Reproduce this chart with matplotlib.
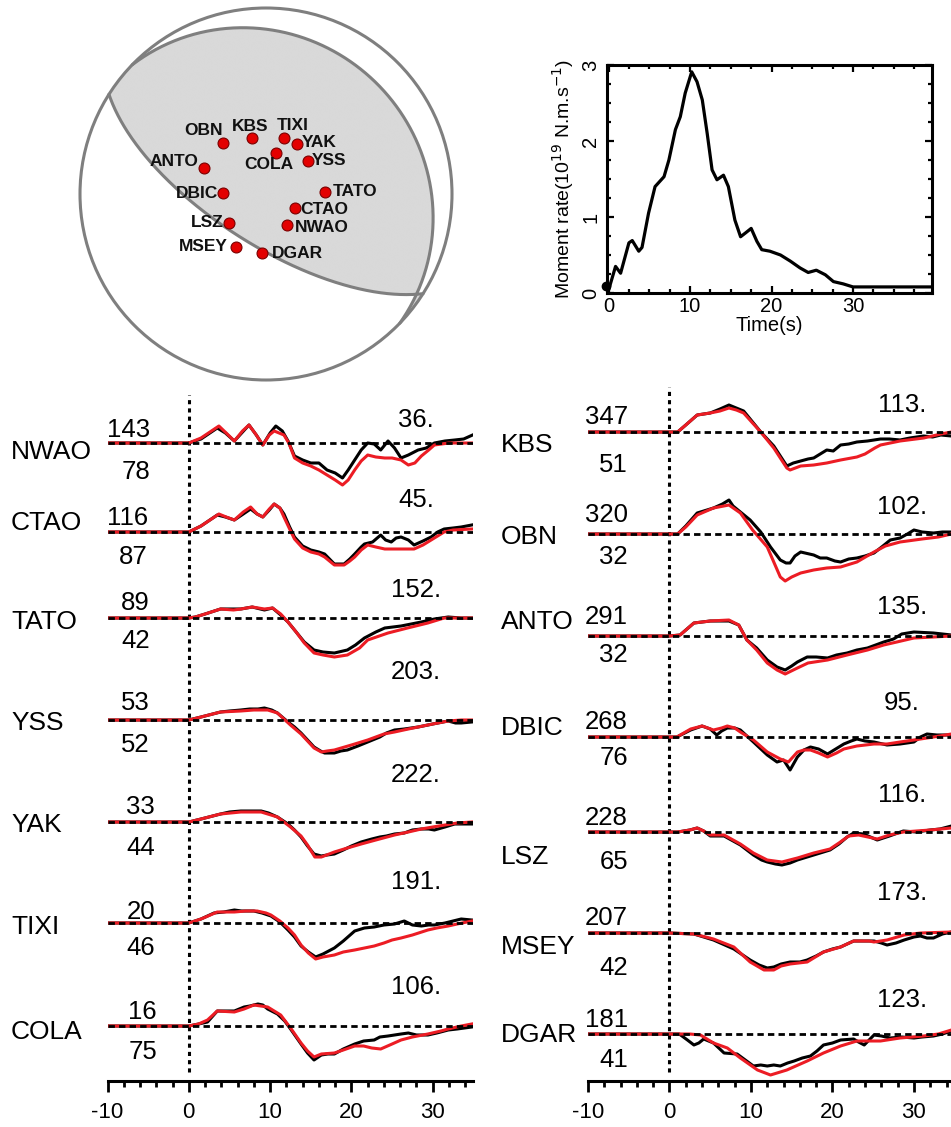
import numpy as np
import matplotlib
matplotlib.use('Agg')
import matplotlib.pyplot as plt
from matplotlib.patches import Circle
from matplotlib.ticker import MultipleLocator

plt.rcParams['font.family'] = ['Liberation Sans', 'DejaVu Sans']
plt.rcParams['axes.unicode_minus'] = False

# ---------------- DATA ----------------
# moment-rate function
MR_T = [-0.3, 0, 0.85, 1.47, 2.49, 2.9, 3.7, 4.1, 4.9, 5.7, 6.8, 7.4, 8.2, 8.8, 9.4, 10.2,
        10.85, 11.5, 12.1, 12.7, 13.3, 14.1, 14.7, 15.5, 16.2, 16.8, 17.5, 18.2, 18.8, 19.8,
        21.1, 22.3, 23.5, 24.5, 25.5, 26.6, 27.6, 28.8, 30, 39.7]
MR_V = [0.09, 0.04, 0.35, 0.26, 0.66, 0.69, 0.55, 0.6, 1.05, 1.4, 1.53, 1.75, 2.15, 2.32, 2.63, 2.91,
        2.78, 2.54, 2.1, 1.62, 1.49, 1.55, 1.4, 0.96, 0.74, 0.79, 0.85, 0.68, 0.57, 0.55,
        0.5, 0.42, 0.33, 0.27, 0.3, 0.24, 0.15, 0.12, 0.08, 0.08]

# stations on the focal sphere (projected E, N in units of sphere radius)
BALL_STA = ['OBN', 'KBS', 'TIXI', 'YAK', 'COLA', 'YSS', 'ANTO', 'DBIC', 'TATO', 'CTAO',
            'LSZ', 'NWAO', 'MSEY', 'DGAR']
BALL_E = [-0.230, -0.077, 0.098, 0.165, 0.054, 0.224, -0.333, -0.233, 0.317, 0.156,
          -0.199, 0.115, -0.161, -0.023]
BALL_N = [0.276, 0.299, 0.303, 0.269, 0.222, 0.179, 0.138, 0.004, 0.012, -0.074,
          -0.154, -0.167, -0.283, -0.319]
# nodal planes (strike, dip)
PLANE_A = (122.4, 68.0)
PLANE_B = (314.0, 17.0)

# waveform panels
LEFT_STA = ['NWAO', 'CTAO', 'TATO', 'YSS', 'YAK', 'TIXI', 'COLA']
LEFT_AZ = ['143', '116', '89', '53', '33', '20', '16']
LEFT_DIST = ['78', '87', '42', '52', '44', '46', '75']
LEFT_AMP = ['36.', '45.', '152.', '203.', '222.', '191.', '106.']
RIGHT_STA = ['KBS', 'OBN', 'ANTO', 'DBIC', 'LSZ', 'MSEY', 'DGAR']
RIGHT_AZ = ['347', '320', '291', '268', '228', '207', '181']
RIGHT_DIST = ['51', '32', '32', '76', '65', '42', '41']
RIGHT_AMP = ['113.', '102.', '135.', '95.', '116.', '173.', '123.']

# traces: (time s, amplitude) observed (black) and synthetic (red)
NWAO_OBS = [(-10,0),(0,0),(1.5,4),(3.5,15),(4.5,10),(5.6,2),(6.5,10),(7.4,18),(8.3,8),(9.1,-2),(10,10),
            (10.7,17),(11.5,12),(12.2,2),(13,-13),(14,-17),(15,-20),(16,-20),(17,-27),(18,-30),(18.9,-35),
            (19.6,-27),(20.4,-17),(21.2,-7),(22,0),(22.8,-1),(23.6,-7),(24.5,2),(25.3,-5),(26.1,-15),
            (27,-12),(28.2,-7),(29.2,-5),(30.2,0),(31.5,2),(32.7,3),(33.8,4),(34.9,8)]
NWAO_SYN = [(-10,0),(0,0),(1.5,5),(3.7,17),(4.6,10),(5.6,2),(6.6,12),(7.4,18),(8.3,8),(9.1,-2),(9.9,8),
            (10.5,12),(11.7,8),(12.3,0),(13,-15),(14,-20),(15,-23),(16,-27),(17,-32),(18,-37),(18.9,-42),
            (19.6,-37),(20.4,-27),(21.2,-18),(22,-12),(23,-14),(24.1,-15),(25,-15),(26.1,-17),(27,-22),
            (27.8,-20),(28.6,-13),(29.5,-7),(30.2,-2),(32,0),(35,0)]
CTAO_OBS = [(-10,0),(0,0),(1.5,6),(3.5,17),(4.5,15),(5.6,12),(6.7,18),(7.6,23),(8.4,18),(9.1,15),(9.9,22),
            (10.5,28),(11.2,24),(11.7,18),(12.4,5),(13,-5),(14,-14),(15,-18),(16,-20),(16.7,-22),(17.3,-27),
            (17.9,-32),(19.1,-32),(19.8,-27),(20.4,-22),(21.2,-15),(21.6,-12),(22.6,-10),(23.6,-3),(24.2,-8),
            (24.9,-10),(25.5,-6),(26.1,-5),(27,-8),(27.7,-13),(28.8,-9),(29.8,-5),(30.6,0),(31.4,3),(32.5,4),
            (33.5,5),(34.8,7)]
CTAO_SYN = [(-10,0),(0,0),(1.5,6),(3.7,18),(4.6,15),(5.6,12),(6.7,20),(7.6,25),(8.4,18),(9.1,15),(9.9,23),
            (10.5,28),(11.2,24),(11.7,15),(12.4,3),(13,-7),(14,-16),(15,-20),(16,-22),(16.7,-25),(17.3,-29),
            (17.9,-33),(19.1,-33),(19.8,-29),(20.4,-25),(21.2,-18),(22,-13),(23,-15),(24.1,-17),(25.1,-17),
            (26.1,-17),(27.7,-17),(28.8,-13),(29.8,-8),(30.6,-4),(31.4,0),(32.5,2),(34.8,3)]
TATO_OBS = [(-10,0),(0,0),(0.8,1),(2,4),(3.9,9),(5.5,9),(6.4,9),(7.8,11),(9.3,8),(10.3,10),(11.3,3),(12.2,-4),
            (13.2,-14),(14.2,-24),(15.4,-32),(16.5,-34),(17.9,-35),(19.5,-32),(20.5,-27),(21.6,-20),(23,-14),
            (24.1,-10),(26.1,-8),(28.6,-4),(30.2,-1),(31.9,1),(33.5,0),(34.8,0)]
TATO_SYN = [(-10,0),(0,0),(0.8,1),(2,4),(3.9,9),(5.5,8),(6.4,9),(7.8,11),(9.3,9),(10.3,10),(11.3,4),(12.2,-4),
            (13.2,-14),(14.2,-25),(15.4,-35),(16.5,-37),(17.9,-39),(19.5,-37),(21,-30),(22,-22),(24.5,-15),
            (26.9,-10),(29.4,-5),(31.4,0),(34.8,0)]
YSS_OBS = [(-10,0),(0,0),(1.5,3),(3.9,8),(5,9),(6.4,10),(7.5,11),(8.5,11),(9.3,12),(10.2,10),(10.9,7),(12.2,-2),
           (13,-7),(13.8,-13),(14.6,-20),(15.4,-27),(16.2,-31),(16.7,-33),(17.9,-33),(18.7,-31),(19.5,-30),
           (20.8,-26),(22,-22),(23.5,-17),(24.3,-13),(25.3,-10),(26.5,-9),(28.2,-7),(30,-4),(31.9,-1),
           (32.8,-3),(33.5,-3),(34.8,-2)]
YSS_SYN = [(-10,0),(0,0),(1.5,3),(3.9,8),(6.4,9),(8,10),(9.7,10),(10.9,7),(12.5,-5),(13.8,-14),(14.6,-21),
           (15.4,-28),(16.3,-32),(17,-31),(17.9,-30),(20,-25),(22,-20),(24,-14),(25.3,-12),(27,-9),(28.2,-7),
           (30,-4),(31.9,-1),(33.5,0),(34.8,0)]
YAK_OBS = [(-10,0),(0,0),(1.5,3),(3.9,8),(5,10),(6.4,11),(7.5,11),(8.9,11),(9.8,9),(10.9,5),(12.2,-2),(13,-8),
           (13.8,-15),(14.6,-24),(15.4,-32),(16.3,-34),(17,-33),(17.9,-32),(19,-28),(20,-24),(21.2,-20),
           (22.5,-17),(23.5,-15),(24.3,-14),(25.3,-12),(26.5,-11),(27.5,-8),(28.6,-7),(29.5,-7),(30.2,-8),
           (31.5,-5),(32.7,-2),(34.8,-2)]
YAK_SYN = [(-10,0),(0,0),(1.5,3),(3.9,8),(6.4,10),(8.9,10),(10.9,5),(12.5,-5),(13.8,-14),(14.6,-23),(15.5,-35),
           (16.3,-35),(17.9,-30),(19.5,-26),(21.2,-22),(23,-18),(25.3,-13),(27,-10),(28.6,-7),(30,-5),
           (31.5,-3),(33,-1),(34.8,0)]
TIXI_OBS = [(-10,0),(0,0),(1.5,4),(3.1,10),(4.3,11),(5.6,13),(6.5,12),(8,12),(9,10),(10.1,7),(11.2,1),(12.2,-7),
            (13,-14),(13.8,-23),(14.7,-29),(15.6,-34),(16.5,-31),(17.9,-25),(19,-18),(20.4,-8),(21.6,-5),
            (22.8,-4),(24,-2),(25.3,-1),(26.5,2),(27.5,-2),(28.6,-3),(29.5,-2),(30.2,-2),(31.5,0),(32.5,2),
            (33.5,4),(34.8,3)]
TIXI_SYN = [(-10,0),(0,0),(1.5,4),(3.5,11),(5.6,11),(7,12),(8.4,12),(9.5,10),(10.1,8),(11.2,2),(12.2,-5),
            (13,-12),(13.8,-22),(14.7,-30),(15.6,-36),(16.5,-34),(17.9,-32),(19,-29),(20.4,-27),(21.6,-25),
            (22.8,-23),(24,-20),(25,-17),(26.1,-15),(27.5,-12),(29.4,-7),(30.5,-5),(31.9,-3),(33,-1),(34.8,2)]
COLA_OBS = [(-10,0),(0,0),(1.2,2),(2.3,4),(3.5,15),(4.5,15),(5.6,15),(6.8,19),(7.5,20),(8.5,22),(9.1,21),
            (9.7,17),(10.9,12),(11.8,5),(12.6,-4),(13.8,-18),(14.6,-27),(15.4,-34),(16.3,-29),(17.1,-28),
            (17.9,-28),(19,-23),(20.4,-18),(21.5,-15),(22.8,-14),(23.5,-11),(24.5,-10),(26.1,-8),(27,-7),
            (28,-9),(29.4,-9),(30.5,-7),(31.9,-4),(33,-3),(34.8,-1)]
COLA_SYN = [(-10,0),(0,0),(1.2,2),(2.3,6),(3.5,15),(5.6,14),(6.8,17),(8,21),(9.7,19),(11.3,11),(12.6,-3),
            (13.8,-17),(14.6,-25),(15.4,-31),(16.3,-28),(17.9,-27),(19,-24),(20.4,-20),(21.5,-20),(22.5,-22),
            (23.6,-23),(25,-18),(26.1,-14),(27.5,-11),(29.4,-8),(31,-5),(31.9,-3),(33.5,0),(34.8,2)]

KBS_OBS = [(-10,0),(0,0),(1,0),(2,7),(3.4,17),(5,19),(6.2,23),(7.3,27),(8.2,24),(9.1,21),(10.2,10),(11.2,0),
           (12.8,-14),(14.4,-34),(15.2,-31),(16.1,-29),(17,-27),(17.7,-26),(18.5,-22),(19.3,-18),(20.1,-19),
           (21,-13),(22,-12),(23,-10),(24.3,-9),(25.9,-7),(27,-7),(28.3,-8),(29.5,-6),(31.2,-4),(32.3,-5),
           (33.3,-3),(34.6,-4)]
KBS_SYN = [(-10,0),(0,0),(1,0),(2,7),(3.4,17),(5,19),(6.2,21),(7.3,24),(8.2,22),(9.1,19),(10.2,9),(11.2,0),
           (12.8,-16),(14.4,-36),(14.8,-38),(16.1,-34),(17.7,-33),(19.3,-31),(21,-28),(23,-25),(24,-22),
           (25.2,-16),(25.9,-13),(28.3,-9),(31.2,-6),(33.3,-2),(34.6,0)]
OBN_OBS = [(-10,0),(0,0),(1,0),(2,8),(3.4,21),(5.4,26),(6.5,30),(7.3,34),(7.8,28),(8.7,22),(9.9,14),(11.2,2),
           (12.4,-13),(13.6,-26),(14.3,-29),(14.8,-29),(15.4,-22),(16.1,-18),(17.7,-21),(18.5,-24),(19.3,-24),
           (20.3,-27),(21,-28),(22,-25),(23,-24),(24,-22),(25.1,-19),(26.2,-12),(27.1,-6),(28.3,-4),(29.2,0),
           (30,4),(31,2),(32.4,1),(33.5,2),(34.6,2)]
OBN_SYN = [(-10,0),(0,0),(1,0),(2,7),(3.4,19),(5.4,26),(7.3,29),(8.7,21),(10.2,4),(12,-13),(13.6,-43),
           (14.2,-47),(15,-43),(16.1,-39),(17.7,-36),(19.3,-34),(21,-33),(23,-28),(25.1,-18),(26.5,-12),
           (28.3,-8),(31,-5),(33,-3),(34.6,0)]
ANTO_OBS = [(-10,0),(0,0),(1.3,1),(3,13),(5,15),(7.3,15),(8.5,11),(9.5,-4),(10.7,-12),(12,-24),(13.2,-31),
            (14.2,-34),(15,-30),(15.7,-26),(16.9,-21),(18,-21),(19.4,-22),(20.5,-19),(21.8,-17),(23,-14),
            (24.3,-12),(26.3,-6),(27.5,-3),(28.5,2),(30,4),(32.4,3),(34.6,1)]
ANTO_SYN = [(-10,0),(0,0),(1.3,1),(3,13),(5,15),(7.3,16),(8.5,11),(9.5,-4),(10.7,-14),(12,-27),(13.2,-34),
            (14.2,-38),(15.7,-32),(17,-27),(19.4,-24),(21.8,-19),(24.3,-14),(26.3,-9),(27.9,-6),(30,-2),
            (32.4,-1),(34.6,0)]
DBIC_OBS = [(-10,0),(0,0),(0.9,0),(2.6,7),(4,11),(5,8),(5.8,2),(6.4,6),(7.1,9),(8,9),(8.7,7),(10.3,-5),(12,-18),
            (13.2,-25),(14,-23),(14.8,-33),(15.7,-20),(16.5,-13),(17.3,-10),(18.3,-12),(19.4,-17),(20.4,-12),
            (21.4,-7),(22.3,-4),(23,-2),(24,-4),(25.1,-5),(26.7,-8),(28.3,-7),(30,-5),(30.8,0),(31.6,3),
            (32.8,2),(34.6,2)]
DBIC_SYN = [(-10,0),(0,0),(0.9,0),(2.6,8),(4,11),(5.4,7),(6.4,9),(7.1,11),(8,9),(8.7,5),(10.3,-3),(12,-15),
            (13.6,-22),(14.6,-25),(15.7,-15),(16.5,-13),(17.3,-13),(18.3,-16),(19.4,-20),(20.5,-16),(21.4,-12),
            (23,-9),(25.1,-7),(26.7,-7),(28.3,-5),(30,-3),(32.4,0),(34.6,3)]
LSZ_OBS = [(-10,0),(0,0),(1,0),(2.5,2),(3.4,4),(4.2,1),(5,-4),(6.7,-4),(8.7,-13),(10.3,-23),(11.3,-28),(12,-30),
           (13,-32),(13.8,-33),(14.8,-31),(15.7,-28),(17.7,-23),(19.7,-18),(20.8,-12),(21.8,-5),(22.6,-1),
           (23.8,-2),(25.5,-8),(27,-4),(28.7,1),(30.3,0),(32,2),(33.2,3),(34.6,6)]
LSZ_SYN = [(-10,0),(0,0),(1,0),(2.5,2),(3.4,4),(4.2,1),(5,-3),(6.7,-3),(8.7,-12),(10.3,-21),(12,-28),(13.8,-30),
           (15.7,-26),(17.7,-21),(19.7,-17),(20.8,-11),(22,-4),(23.2,-3),(25.5,-7),(27,-3),(28.7,0),(30.3,1),
           (32,2),(34.6,4)]
MSEY_OBS = [(-10,0),(0,0),(3,-1),(5.4,-7),(7.9,-16),(9.9,-27),(11,-32),(12,-35),(12.8,-34),(13.7,-31),
            (14.8,-29),(16,-29),(16.9,-27),(18,-23),(18.9,-19),(20,-16),(21,-14),(22.6,-8),(24,-8),(25.1,-8),
            (26,-10),(26.7,-12),(27.8,-10),(28.8,-7),(30,-4),(30.8,-3),(31.6,-5),(32.4,-5),(33.5,-1),(34.6,1)]
MSEY_SYN = [(-10,0),(0,0),(3,-1),(5.4,-6),(7.9,-14),(9.9,-29),(11.6,-37),(12.8,-37),(13.7,-33),(14.8,-31),
            (16.9,-29),(18.9,-19),(21,-14),(22.6,-8),(24.5,-8),(25.1,-9),(26.7,-7),(28.8,-2),(30.8,0),(34.6,1)]
DGAR_OBS = [(-10,0),(0,0),(1.2,0),(2.2,-6),(3,-11),(3.6,-9),(4.2,-5),(5.4,-9),(6.7,-19),(8.3,-20),(9.3,-26),
            (10.3,-32),(11.2,-31),(12,-32),(12.8,-31),(13.6,-32),(14.5,-29),(15.3,-27),(16.3,-24),(17.3,-22),
            (18.1,-17),(18.9,-11),(20,-9),(21,-6),(22.6,-5),(23.2,-8),(23.9,-11),(24.5,-6),(25.1,-1),(26,-2),
            (27.1,-4),(28.5,-3),(30,-4),(31,-3),(32.4,-2),(33.5,0),(34.6,3)]
DGAR_SYN = [(-10,0),(0,0),(2.5,0),(3.8,-1),(5.4,-9),(7.1,-14),(8.7,-24),(10.8,-36),(12.4,-41),(14.4,-36),
            (16.9,-27),(18.9,-19),(21,-12),(23,-7),(25.9,-7),(28.3,-4),(31.2,-2),(33,0),(34.6,4)]

LEFT_OBS = [NWAO_OBS, CTAO_OBS, TATO_OBS, YSS_OBS, YAK_OBS, TIXI_OBS, COLA_OBS]
LEFT_SYN = [NWAO_SYN, CTAO_SYN, TATO_SYN, YSS_SYN, YAK_SYN, TIXI_SYN, COLA_SYN]
RIGHT_OBS = [KBS_OBS, OBN_OBS, ANTO_OBS, DBIC_OBS, LSZ_OBS, MSEY_OBS, DGAR_OBS]
RIGHT_SYN = [KBS_SYN, OBN_SYN, ANTO_SYN, DBIC_SYN, LSZ_SYN, MSEY_SYN, DGAR_SYN]

# ---------------- LAYOUT ----------------
W, H = 951, 1127
fig = plt.figure(figsize=(W / 100, H / 100), dpi=100)


def rect(x0, y0, x1, y1):
    return [x0 / W, 1 - y1 / H, (x1 - x0) / W, (y1 - y0) / H]


def ftext(x, y, s, **kw):
    fig.text(x / W, 1 - y / H, s, **kw)


RED = '#ec1c24'
GRAYLINE = '#7f7f7f'
GRAYFILL = '#d9d9d9'

# ---------------- focal mechanism ----------------
R_PX = 186.0
axb = fig.add_axes(rect(76, 4, 456, 384))
lim = 190.0 / R_PX
axb.set_xlim(-lim, lim)
axb.set_ylim(-lim, lim)
axb.set_aspect('equal')
axb.axis('off')


def plane_vectors(strike, dip):
    s = np.radians(strike)
    d = np.radians(dip)
    sv = np.array([np.sin(s), np.cos(s), 0.0])
    dd = s + np.pi / 2
    dv = np.array([np.cos(d) * np.sin(dd), np.cos(d) * np.cos(dd), np.sin(d)])
    return sv, dv


def project(v):
    E, N, D = v[..., 0], v[..., 1], v[..., 2]
    c = np.arccos(np.clip(D, -1, 1))
    r = np.sqrt(2) * np.sin(c / 2)
    az = np.arctan2(E, N)
    return r * np.sin(az), r * np.cos(az)


def plane_curve(strike, dip, n=400):
    sv, dv = plane_vectors(strike, dip)
    th = np.linspace(0, np.pi, n)
    v = np.outer(np.cos(th), sv) + np.outer(np.sin(th), dv)
    return project(v)


nA = np.cross(*plane_vectors(*PLANE_A))
nB = np.cross(*plane_vectors(*PLANE_B))
g = np.linspace(-1, 1, 900)
X, Y = np.meshgrid(g, g)
Rr = np.sqrt(X ** 2 + Y ** 2)
c = 2 * np.arcsin(np.clip(Rr / np.sqrt(2), 0, 1))
az = np.arctan2(X, Y)
V = np.stack([np.sin(c) * np.sin(az), np.sin(c) * np.cos(az), np.cos(c)], axis=-1)
prod = np.sign(V @ nA) * np.sign(V @ nB)
center_sign = np.sign(nA[2]) * np.sign(nB[2])
gray = prod == center_sign
img = np.ones(X.shape + (3,))
img[gray] = matplotlib.colors.to_rgb(GRAYFILL)
im = axb.imshow(img, extent=(-1, 1, -1, 1), origin='lower', interpolation='bilinear', zorder=1)
clip = Circle((0, 0), 1.0, transform=axb.transData)
im.set_clip_path(clip)
for pl in (PLANE_A, PLANE_B):
    x, y = plane_curve(*pl)
    axb.plot(x, y, color=GRAYLINE, lw=2.2, zorder=3, solid_capstyle='round')
axb.add_patch(Circle((0, 0), 1.0, fill=False, ec=GRAYLINE, lw=2.2, zorder=3))
axb.scatter(BALL_E, BALL_N, s=62, c='#e30000', edgecolors='#7a0000', linewidths=0.8, zorder=5)
# label offsets (px) and alignment
BALL_LAB = {'OBN': (-20, 12, 'center'), 'KBS': (-2, 12, 'center'), 'TIXI': (8, 12, 'center'),
            'YAK': (5, 1, 'left'), 'COLA': (-7, -12, 'center'), 'YSS': (4.5, 0, 'left'),
            'ANTO': (-6, 7, 'right'), 'DBIC': (-4.5, 0, 'right'), 'TATO': (8, 0.7, 'left'),
            'CTAO': (5, -1.3, 'left'), 'LSZ': (-5, 0, 'right'), 'NWAO': (7.5, -2, 'left'),
            'MSEY': (-8, 0, 'right'), 'DGAR': (10, 0, 'left')}
for s, e, n in zip(BALL_STA, BALL_E, BALL_N):
    dx, dy, ha = BALL_LAB[s]
    axb.text(e + dx / R_PX, n + dy / R_PX, s, ha=ha, va='center', fontsize=12.5,
             fontweight='bold', color='#111111', zorder=6)

# ---------------- moment rate ----------------
axm = fig.add_axes(rect(607, 65, 932, 293))
axm.plot(MR_T, MR_V, color='black', lw=2.3, clip_on=False, zorder=3,
         solid_joinstyle='round')
axm.plot(MR_T[0], MR_V[0], 'o', color='black', ms=6, clip_on=False, zorder=4)
axm.set_xlim(-0.2, 39.7)
axm.set_ylim(0, 3)
axm.xaxis.set_major_locator(MultipleLocator(10))
axm.xaxis.set_minor_locator(MultipleLocator(2.5))
axm.set_yticks([0, 1, 2, 3])
axm.set_yticklabels(['0', '1', '2', '3'], rotation=90, va='center', ha='right')
axm.yaxis.set_minor_locator(MultipleLocator(0.25))
for sp in axm.spines.values():
    sp.set_linewidth(2.2)
axm.tick_params(which='both', direction='in', top=True, right=True, width=1.6, labelsize=14.5)
axm.tick_params(which='major', length=5)
axm.tick_params(which='minor', length=3)
axm.tick_params(axis='x', pad=3)
axm.tick_params(axis='y', pad=5)
axm.set_xlabel('Time(s)', fontsize=14.5, labelpad=0)
axm.set_ylabel('Moment rate(10$^{19}$ N.m.s$^{-1}$)', fontsize=14, labelpad=4)

# ---------------- waveforms ----------------
BASE_L = [443, 532, 618, 720, 822, 923, 1026]
BASE_R = [432, 534, 636, 737, 832, 933, 1034]
NAME_DY_L = [-9, 9, -4, -3, -3, -4, -6]
NAME_DY_R = [-13, -3, 14, 9, -25, -14, -1]
AZ_DY_L = [13, 14, 15, 17, 15, 11, 14]
AZ_DY_R = [15, 19, 19, 15, 14, 15, 14]
DI_DY_L = [-29, -25, -23, -25, -26, -25, -26]
DI_DY_R = [-33, -23, -19, -21, -30, -35, -26]
AMP_DY_L = [23, 32, 28, 48, 47, 41, 39]
AMP_DY_R = [27, 27, 29, 34, 37, 40, 34]
NUM_X_L = [150, 148, 150, 150, 155, 155, 157]
NUM_X_R = [628] * 7


def column(box, xmax, obs, syn, base, names, azs, dists, amps,
           name_x, name_dy, az_dy, di_dy, amp_dy, num_x, amp_x, vtop):
    ax = fig.add_axes(rect(*box))
    ax.set_xlim(-10, xmax)
    ax.set_ylim(box[3], box[1])
    for sp in ('left', 'right', 'top'):
        ax.spines[sp].set_visible(False)
    ax.spines['bottom'].set_linewidth(2.2)
    ax.set_yticks([])
    ax.xaxis.set_major_locator(MultipleLocator(10))
    ax.xaxis.set_minor_locator(MultipleLocator(2))
    ax.tick_params(axis='x', which='both', direction='out', width=2.0, labelsize=16, pad=7)
    ax.tick_params(axis='x', which='major', length=8)
    ax.tick_params(axis='x', which='minor', length=4)
    ax.patch.set_alpha(0)
    ax.plot([0, 0], [1072, vtop], color='black', lw=2.2, ls=(0, (1.35, 1.35)), zorder=2)
    for i in range(len(names)):
        b = base[i]
        to, ao = zip(*obs[i])
        ts, as_ = zip(*syn[i])
        ax.plot(to, [b - a for a in ao], color='black', lw=2.2, zorder=3, solid_joinstyle='round')
        ax.plot(ts, [b - a for a in as_], color=RED, lw=2.2, zorder=4, solid_joinstyle='round')
        ax.plot([-10, xmax], [b, b], color='black', lw=2.0, ls=(0, (2.3, 1.5)), zorder=5)
        ftext(name_x, b - name_dy[i], names[i], ha='left', va='center', fontsize=19)
        ftext(num_x[i], b - az_dy[i], azs[i], ha='right', va='center', fontsize=18.5)
        ftext(num_x[i], b - di_dy[i], dists[i], ha='right', va='center', fontsize=18.5)
        ftext(amp_x, b - amp_dy[i], amps[i], ha='center', va='center', fontsize=18.5)
    return ax


column((107.5, 385, 473.4, 1081), 35.0, LEFT_OBS, LEFT_SYN, BASE_L, LEFT_STA, LEFT_AZ, LEFT_DIST,
       LEFT_AMP, 11, NAME_DY_L, AZ_DY_L, DI_DY_L, AMP_DY_L, NUM_X_L, 416, 395)
column((588, 385, 951, 1081), 34.55, RIGHT_OBS, RIGHT_SYN, BASE_R, RIGHT_STA, RIGHT_AZ, RIGHT_DIST,
       RIGHT_AMP, 501, NAME_DY_R, AZ_DY_R, DI_DY_R, AMP_DY_R, NUM_X_R, 902, 387)

fig.savefig('out.png', dpi=100)
